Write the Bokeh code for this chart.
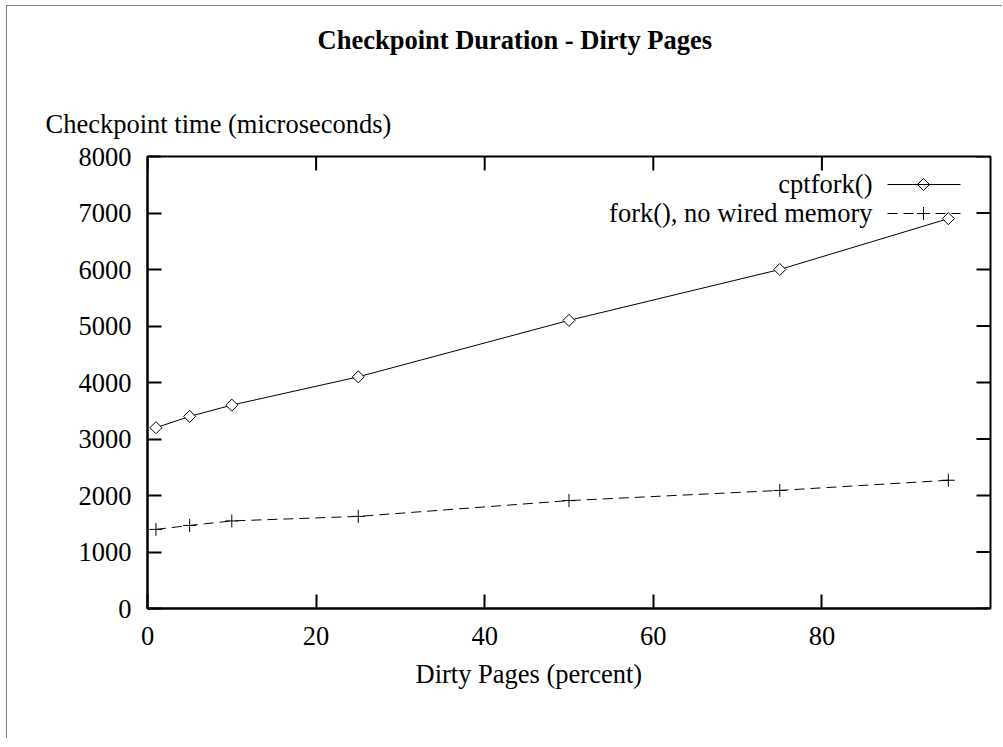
import math
from bokeh.plotting import figure
from bokeh.models import Range1d, Label, Title, FixedTicker, Arrow
from bokeh.embed import file_html
from bokeh.resources import INLINE

# ---- data ----
dirty_pct = [1, 5, 10, 25, 50, 75, 95]
cptfork_us = [3200, 3400, 3600, 4100, 5100, 6000, 6900]
fork_us = [1400, 1470, 1550, 1630, 1910, 2090, 2270]
x_ticks = [0, 20, 40, 60, 80]
y_ticks = [0, 1000, 2000, 3000, 4000, 5000, 6000, 7000, 8000]
series_names = ["cptfork()", "fork(), no wired memory"]
title_text = "Checkpoint Duration - Dirty Pages"
x_label = "Dirty Pages (percent)"
y_label = "Checkpoint time (microseconds)"

X_MIN, X_MAX = 0, 100
Y_MIN, Y_MAX = 0, 8000

# ---- layout (page pixels) ----
CX0, CY0 = 7, 6            # canvas origin on page (grey page edge drawn 1px left/above)
W, H = 996, 733
FRAME_L, FRAME_T, FRAME_R, FRAME_B = 147, 156, 990, 608
FONT = "Liberation Serif"
FS = "26.5px"
TICK = 14

p = figure(width=W, height=H, x_range=Range1d(X_MIN, X_MAX), y_range=Range1d(Y_MIN, Y_MAX),
           output_backend="svg", toolbar_location=None, title_location=None,
           min_border_left=FRAME_L - CX0, min_border_top=FRAME_T - CY0,
           min_border_right=(CX0 + W) - FRAME_R, min_border_bottom=(CY0 + H) - FRAME_B)
p.styles = {"margin-left": f"{CX0}px", "margin-top": f"{CY0}px",
            "box-shadow": "-1px -1px 0px 0px #808080"}
p.xgrid.visible = False
p.ygrid.visible = False
p.outline_line_color = "black"
p.outline_line_width = 2
p.background_fill_color = "white"
p.border_fill_color = "white"


def style_axis(ax, ticks, standoff):
    ax.ticker = FixedTicker(ticks=ticks)
    ax.axis_line_color = "black"
    ax.axis_line_width = 2
    ax.major_tick_line_color = "black"
    ax.major_tick_line_width = 2
    ax.major_tick_in = TICK
    ax.major_tick_out = 0
    ax.minor_tick_line_color = None
    ax.major_label_standoff = standoff
    ax.major_label_text_font = FONT
    ax.major_label_text_font_size = FS
    ax.major_label_text_color = "black"


style_axis(p.xaxis[0], x_ticks, 18)
style_axis(p.yaxis[0], y_ticks, 16)

# mirrored inward ticks on top and right edges (from the same tick lists)
tick_dy = TICK / (FRAME_B - FRAME_T) * (Y_MAX - Y_MIN)
tick_dx = TICK / (FRAME_R - FRAME_L) * (X_MAX - X_MIN)
p.segment(x0=x_ticks, x1=x_ticks, y0=[Y_MAX] * len(x_ticks), y1=[Y_MAX - tick_dy] * len(x_ticks),
          line_color="black", line_width=2)
p.segment(x0=[X_MAX] * len(y_ticks), x1=[X_MAX - tick_dx] * len(y_ticks), y0=y_ticks, y1=y_ticks,
          line_color="black", line_width=2)

# ---- data series ----
p.line(dirty_pct, cptfork_us, line_color="black", line_width=1)
p.scatter(dirty_pct, cptfork_us, marker="square", angle=math.pi / 4, size=8.5,
          fill_color="white", line_color="black", line_width=1)
p.line(dirty_pct, fork_us, line_color="black", line_width=1, line_dash="10 6")
p.scatter(dirty_pct, fork_us, marker="cross", size=13, line_color="black", line_width=1)

# ---- titles / axis labels ----
ylab_t = Title(text=y_label, align="left", offset=45 - FRAME_L, standoff=36,
               text_font=FONT, text_font_size=FS, text_font_style="normal", text_color="black")
# a blank second line lifts the title within its panel
main_t = Title(text=title_text + "\n\u00a0", align="left", offset=317 - FRAME_L, standoff=8,
               text_font=FONT, text_font_size=FS, text_font_style="bold", text_color="black")
p.add_layout(ylab_t, "above")
p.add_layout(main_t, "above")
xlab_t = Title(text=x_label, align="left", offset=415 - FRAME_L, standoff=18,
               text_font=FONT, text_font_size=FS, text_font_style="normal", text_color="black")
p.add_layout(xlab_t, "below")


# ---- legend (label right-aligned, sample to the right) ----
def sx(px):
    return px - FRAME_L


def sy(py):
    return FRAME_B - py


def dx(px):
    return X_MIN + (px - FRAME_L) / (FRAME_R - FRAME_L) * (X_MAX - X_MIN)


def dy(py):
    return Y_MIN + (FRAME_B - py) / (FRAME_B - FRAME_T) * (Y_MAX - Y_MIN)


LEG_TEXT_R = 872
LEG_X0, LEG_X1, LEG_XM = 887, 960, 923
LEG_ROWS = [184, 213]

for i, name in enumerate(series_names):
    ly = LEG_ROWS[i]
    p.add_layout(Label(x=sx(LEG_TEXT_R), y=sy(ly - 1), x_units="screen", y_units="screen",
                       text=name, text_font=FONT, text_font_size=FS, text_color="black",
                       text_align="right", text_baseline="middle"))
    p.add_layout(Arrow(x_start=sx(LEG_X0), y_start=sy(ly), x_end=sx(LEG_X1), y_end=sy(ly),
                       start_units="screen", end_units="screen", start=None, end=None,
                       line_color="black", line_width=1,
                       line_dash="solid" if i == 0 else "10 6"))

p.scatter([dx(LEG_XM)], [dy(LEG_ROWS[0])], marker="square", angle=math.pi / 4, size=8.5,
          fill_color="white", line_color="black", line_width=1)
p.scatter([dx(LEG_XM)], [dy(LEG_ROWS[1])], marker="cross", size=13,
          line_color="black", line_width=1)

open("out.html", "w").write(file_html(p, INLINE))
